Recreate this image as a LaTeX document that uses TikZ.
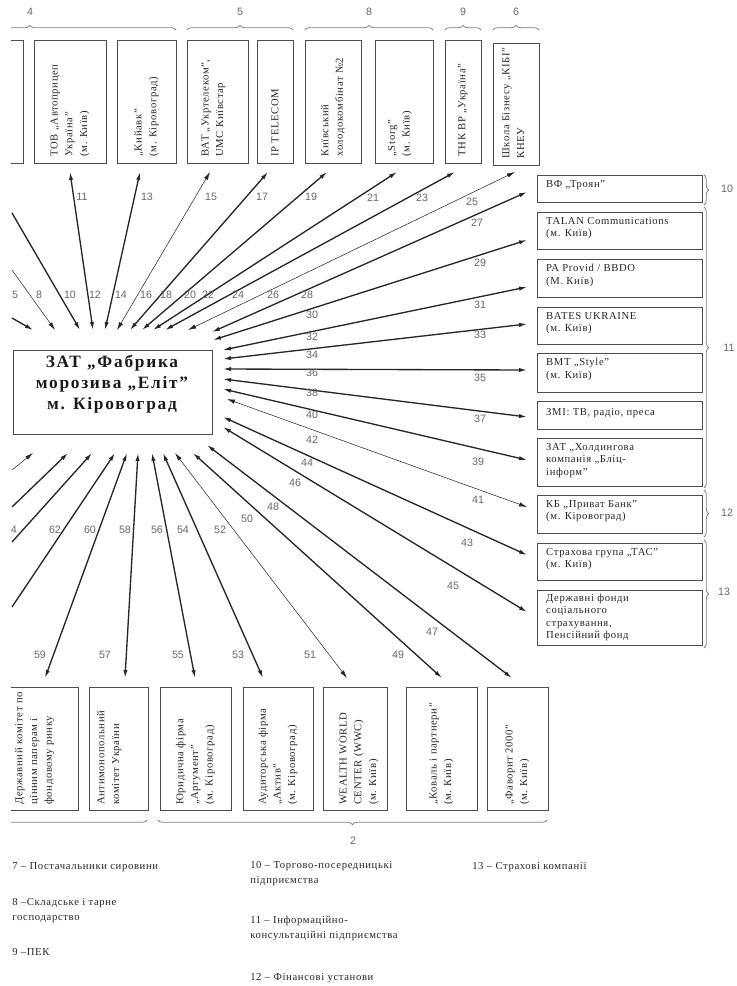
\documentclass[tikz,border=0pt]{standalone}
\usepackage{fontspec}
\setmainfont{Liberation Serif}
\newfontfamily\spacedfont[LetterSpace=6]{Liberation Serif}
\newfontfamily\titlefont[LetterSpace=10]{Liberation Serif}
\newfontfamily\numfont{Liberation Sans}
\usetikzlibrary{arrows.meta,decorations.pathreplacing,fit}

\begin{document}
\begin{tikzpicture}[x=0.75pt,y=-0.75pt,
    box/.style={draw=black!70,line width=0.6pt,inner sep=0pt},
    txt/.style={font=\spacedfont\fontsize{8}{11}\selectfont,text=black!85,inner sep=0pt,align=left},
    vtext/.style={txt,rotate=90,anchor=west},
    htext/.style={txt,font=\spacedfont\fontsize{8}{9.4}\selectfont,anchor=north west},
    num/.style={font=\numfont\fontsize{8}{9}\selectfont,text=black!60,inner sep=1pt},
    link/.style={draw=black!85,line width=1pt,{Latex[length=6pt,width=3.2pt]}-{Latex[length=6pt,width=3.2pt]}},
    tlink/.style={link,line width=0.4pt},
    inlink/.style={draw=black!85,line width=1pt,-{Latex[length=6pt,width=3.2pt]}},
    tinlink/.style={inlink,line width=0.4pt},
    brc/.style={draw=black!50,line width=0.6pt,decorate,decoration={brace,amplitude=3.5pt}}]
    \useasboundingbox (0,0) rectangle (737,986);
    \clip (11,0) rectangle (737,986);

    % centre
    \node[box,fit={(13,350) (212,434)}] (c) {};
    \node[font=\titlefont\bfseries\fontsize{13}{16}\selectfont,align=center,text=black!90] (ct) at (112,384)
        {ЗАТ „Фабрика\\морозива „Еліт”\\м. Кіровоград};

    % top row
    \node[box,fit={(-30,40) (23,163)}] (t0) {};
    \node[box,fit={(34,40) (106,163)}] (t1) {};
    \node[box,fit={(117,40) (176,163)}] (t2) {};
    \node[box,fit={(187,40) (248,163)}] (t3) {};
    \node[box,fit={(257,40) (293,163)}] (t4) {};
    \node[box,fit={(305,40) (361,163)}] (t5) {};
    \node[box,fit={(375,40) (433,163)}] (t6) {};
    \node[box,fit={(445,40) (481,163)}] (t7) {};
    \node[box,fit={(493,43) (539,165)}] (t8) {};
    \node[vtext] (x1) at ([yshift=5pt]t1.south) {ТОВ „Автоприцеп\\Україна”\\(м. Київ)};
    \node[vtext] (x2) at ([yshift=5pt]t2.south) {„Кийавк”\\(м. Кіровоград)};
    \node[vtext] (x3) at ([xshift=-3pt,yshift=5pt]t3.south) {ВАТ „Укртелеком”,\\UMC Київстар};
    \node[vtext] (x4) at ([yshift=5pt]t4.south) {IP TELECOM};
    \node[vtext] (x5) at ([yshift=5pt]t5.south) {Київський\\холодокомбінат №2};
    \node[vtext] (x6) at ([xshift=-3pt,yshift=5pt]t6.south) {„Storg”\\(м. Київ)};
    \node[vtext] (x7) at ([yshift=5pt]t7.south) {ТНК ВР „Україна”};
    \node[vtext] (x8) at ([xshift=-2pt,yshift=5pt]t8.south) {Школа Бізнесу „КІБІ”\\КНЕУ};

    \draw[brc] (-116,30) -- (176,30);
    \draw[brc] (187,30) -- (293,30);
    \draw[brc] (305,30) -- (433,30);
    \draw[brc] (445,30) -- (481,30);
    \draw[brc] (493,30) -- (539,30);
    \node[num] (g4) at (30,12) {4};
    \node[num] (g5) at (240,12) {5};
    \node[num] (g8) at (369,12) {8};
    \node[num] (g9) at (463,12) {9};
    \node[num] (g6) at (516,12) {6};

    % right column
    \node[box,fit={(537,175) (702,202)}] (r1) {};
    \node[box,fit={(537,212) (702,249)}] (r2) {};
    \node[box,fit={(537,259) (702,297)}] (r3) {};
    \node[box,fit={(537,307) (702,344)}] (r4) {};
    \node[box,fit={(537,353) (702,392)}] (r5) {};
    \node[box,fit={(537,401) (702,429)}] (r6) {};
    \node[box,fit={(537,438) (702,486)}] (r7) {};
    \node[box,fit={(537,495) (702,533)}] (r8) {};
    \node[box,fit={(537,543) (702,580)}] (r9) {};
    \node[box,fit={(537,590) (702,645)}] (r10) {};
    \node[htext] (s1) at ([xshift=7pt,yshift=-4pt]r1.north west) {ВФ „Троян”};
    \node[htext] (s2) at ([xshift=7pt,yshift=-4pt]r2.north west) {TALAN Communications\\(м. Київ)};
    \node[htext] (s3) at ([xshift=7pt,yshift=-4pt]r3.north west) {РА Provid / BBDO\\(М. Київ)};
    \node[htext] (s4) at ([xshift=7pt,yshift=-4pt]r4.north west) {BATES UKRAINE\\(м. Київ)};
    \node[htext] (s5) at ([xshift=7pt,yshift=-4pt]r5.north west) {ВМТ „Style”\\(м. Київ)};
    \node[htext] (s6) at ([xshift=7pt,yshift=-6pt]r6.north west) {ЗМІ: ТВ, радіо, преса};
    \node[htext] (s7) at ([xshift=7pt,yshift=-4pt]r7.north west) {ЗАТ „Холдингова\\компанія „Бліц-\\інформ”};
    \node[htext] (s8) at ([xshift=7pt,yshift=-4pt]r8.north west) {КБ „Приват Банк”\\(м. Кіровоград)};
    \node[htext] (s9) at ([xshift=7pt,yshift=-4pt]r9.north west) {Страхова група „ТАС”\\(м. Київ)};
    \node[htext] (s10) at ([xshift=7pt,yshift=-3pt]r10.north west) {Державні фонди\\соціального\\страхування,\\Пенсійний фонд};

    \draw[brc] (704,175) -- (704,205);
    \draw[brc] (704,207) -- (704,488);
    \draw[brc] (704,490) -- (704,537);
    \draw[brc] (704,540) -- (704,648);
    \node[num] (g10) at (727,189) {10};
    \node[num] (g11) at (729,348) {11};
    \node[num] (g12) at (727,513) {12};
    \node[num] (g13) at (724,592) {13};

    % bottom row
    \node[box,fit={(10,687) (78,810)}] (u1) {};
    \node[box,fit={(89,687) (148,810)}] (u2) {};
    \node[box,fit={(160,687) (231,810)}] (u3) {};
    \node[box,fit={(243,687) (313,810)}] (u4) {};
    \node[box,fit={(323,687) (387,810)}] (u5) {};
    \node[box,fit={(406,687) (477,810)}] (u6) {};
    \node[box,fit={(487,687) (548,810)}] (u7) {};
    \node[vtext] (v1) at ([xshift=-7pt,yshift=4pt]u1.south) {Державний комітет по\\цінним паперам і\\фондовому ринку};
    \node[vtext] (v2) at ([xshift=-7pt,yshift=4pt]u2.south) {Антимонопольний\\комітет України};
    \node[vtext] (v3) at ([yshift=4pt]u3.south) {Юридична фірма\\„Аргумент”\\(м. Кіровоград)};
    \node[vtext] (v4) at ([yshift=4pt]u4.south) {Аудиторська фірма\\„Актив”\\(м. Кіровоград)};
    \node[vtext] (v5) at ([xshift=3pt,yshift=4pt]u5.south) {WEALTH WORLD\\CENTER (WWC)\\(м. Київ)};
    \node[vtext] (v6) at ([yshift=4pt]u6.south) {„Коваль і партнери”\\(м. Київ)};
    \node[vtext] (v7) at ([yshift=4pt]u7.south) {„Фаворит 2000”\\(м. Київ)};

    \draw[brc] (147,820) -- (-150,820);
    \draw[brc] (547,820) -- (158,820);
    \node[num] (g2) at (353,841) {2};

    % links
    \foreach \o/\i/\ox/\oy/\ix/\iy/\s in {
        11/12/70/172/93/330/link, 13/14/140/172/105/330/link,
        15/16/210/172/117/330/tlink, 17/18/268/172/130/330/link,
        19/20/327/172/142/330/link, 21/22/397/172/153/330/link,
        23/24/455/172/165/330/link, 25/26/515/172/188/330/tlink,
        27/28/527/192/212/332/link, 29/30/527/240/213/340/link,
        31/32/527/287/223/350/link, 33/34/527/324/223/359/link,
        35/36/527/370/223/369/link, 37/38/527/417/223/379/link,
        39/40/527/460/223/389/link, 41/42/527/507/227/399/tlink,
        43/44/527/555/223/417/link, 45/46/527/612/223/427/link,
        47/48/512/678/207/445/link, 49/50/442/678/193/453/link,
        51/52/347/678/175/453/tlink, 53/54/263/678/163/453/link,
        55/56/195/678/152/453/link, 57/58/125/678/138/453/link,
        59/60/45/678/127/453/link}
        {\coordinate (p\o) at (\ox,\oy);
         \coordinate (p\i) at (\ix,\iy);
         \draw[\s] (p\o) -- (p\i);}
    \foreach \o/\ox/\oy/\ix/\iy/\s in {
        a/12/318/33/330/inlink, b/12/270/55/330/tinlink, c/12/213/80/330/inlink,
        d/12/607/115/453/inlink, e/12/542/92/453/inlink, f/12/507/68/453/inlink,
        g/12/470/33/453/tinlink}
        {\coordinate (q\o) at (\ox,\oy);
         \coordinate (k\o) at (\ix,\iy);
         \draw[\s] (q\o) -- (k\o);}

    % numbers
    \foreach \n/\x/\y in {5/15/295, 8/39/295, 10/70/295, 11/82/197, 12/95/295,
        13/147/197, 14/121/295, 15/211/197, 16/146/295, 17/262/197, 18/166/295,
        19/311/197, 20/190/295, 21/373/198, 22/208/295, 23/422/198, 24/238/295,
        25/472/202, 26/273/295, 27/477/223, 28/307/295, 29/480/263, 30/312/315,
        31/480/305, 32/312/337, 33/480/335, 34/312/355, 35/480/378, 36/312/373,
        37/480/419, 38/312/393, 39/478/462, 40/312/415, 41/478/500, 42/312/440,
        43/467/543, 44/307/463, 45/453/586, 46/295/483, 47/432/632, 48/273/507,
        49/398/655, 50/247/519, 51/310/655, 52/220/530, 53/238/655, 54/183/530,
        55/178/655, 56/157/530, 57/105/655, 58/125/530, 59/40/655, 60/90/530,
        62/55/530, 64/11/530}
        \node[num] (n\n) at (\x,\y) {\n};

    % legend
    \node[txt,anchor=west] (l7) at (12,867) {7 – Постачальники сировини};
    \node[txt,anchor=north west] (l8) at (12,898) {8 –Складське і тарне\\господарство};
    \node[txt,anchor=west] (l9) at (12,952) {9 –ПЕК};
    \node[txt,anchor=north west] (l10) at (250,861) {10 – Торгово-посередницькі\\підприємства};
    \node[txt,anchor=north west] (l11) at (250,916) {11 – Інформаційно-\\консультаційні підприємства};
    \node[txt,anchor=west] (l12) at (250,978) {12 – Фінансові установи};
    \node[txt,anchor=west] (l13) at (472,867) {13 – Страхові компанії};
\end{tikzpicture}
\end{document}
